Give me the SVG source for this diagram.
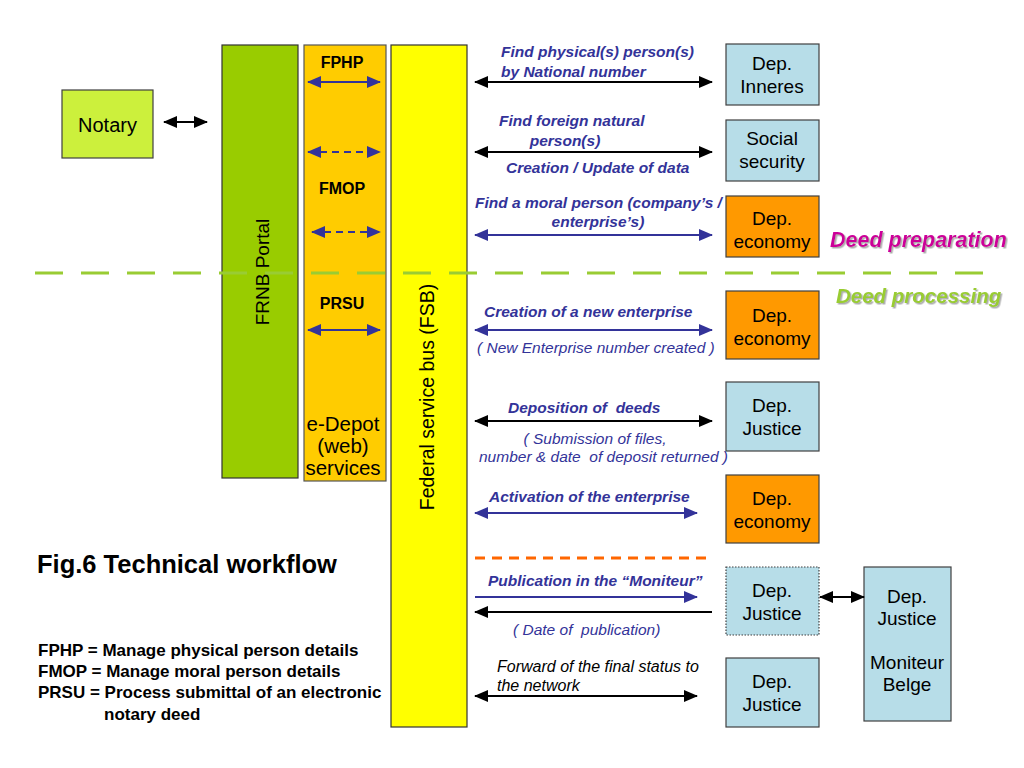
<svg xmlns="http://www.w3.org/2000/svg" width="1024" height="768" viewBox="0 0 1024 768">
<defs>
<style>
.lbl{font-family:"Liberation Sans",Arial,sans-serif;font-size:15.5px;font-weight:bold;font-style:italic;fill:#333399;white-space:pre}
.sub{font-family:"Liberation Sans",Arial,sans-serif;font-size:15.5px;font-style:italic;fill:#333399;white-space:pre}
.fwd{font-family:"Liberation Sans",Arial,sans-serif;font-size:16px;font-style:italic;fill:#000}
.box{font-family:"Liberation Sans",Arial,sans-serif;font-size:19px;fill:#000;text-anchor:middle}
.col{font-family:"Liberation Sans",Arial,sans-serif;font-size:16px;font-weight:bold;fill:#000;text-anchor:middle}
.leg{font-family:"Liberation Sans",Arial,sans-serif;font-size:17px;font-weight:bold;fill:#000}
.blk{stroke:#000;stroke-width:2;fill:none}
.blu{stroke:#333399;stroke-width:2;fill:none}
.lb{fill:#b7dde8;stroke:#404040;stroke-width:1.2}
.or{fill:#ff9900;stroke:#404040;stroke-width:1.2}
.mid{text-anchor:middle}
</style>
<marker id="ab" markerUnits="userSpaceOnUse" markerWidth="14" markerHeight="12" refX="13" refY="6" orient="auto-start-reverse"><path d="M0,0 L14,6 L0,12 z" fill="#000"/></marker>
<marker id="au" markerUnits="userSpaceOnUse" markerWidth="14" markerHeight="12" refX="13" refY="6" orient="auto-start-reverse"><path d="M0,0 L14,6 L0,12 z" fill="#333399"/></marker>
<filter id="sh" x="-10%" y="-20%" width="130%" height="150%"><feDropShadow dx="1.5" dy="1.5" stdDeviation="0.6" flood-color="#999" flood-opacity="0.8"/></filter>
</defs>
<rect width="1024" height="768" fill="#fff"/>

<g id="notary"><rect x="62" y="90" width="91" height="68" fill="#ccf03c" stroke="#404040" stroke-width="1.2"/><text class="box" x="107.5" y="132" style="font-size:20px">Notary</text></g>

<g id="frnb"><rect x="222" y="45" width="76" height="433" fill="#99cc00" stroke="#333" stroke-width="1.2"/><text class="box" transform="translate(269,272) rotate(-90)" style="font-size:19px">FRNB Portal</text></g>

<g id="edepot"><rect x="304" y="45" width="82" height="436" fill="#ffcc00" stroke="#555" stroke-width="1.2"/>
<text class="col" x="342" y="68">FPHP</text>
<text class="col" x="342" y="194">FMOP</text>
<text class="col" x="342" y="309">PRSU</text>
<text class="box" x="343" y="431" style="font-size:20.5px">e-Depot</text>
<text class="box" x="343" y="453" style="font-size:20.5px">(web)</text>
<text class="box" x="343" y="475" style="font-size:20.5px">services</text>
</g>

<g id="fsb"><rect x="391" y="45" width="76" height="682" fill="#ffff00" stroke="#333" stroke-width="1.2"/><text class="box" transform="translate(434,397) rotate(-90)" style="font-size:19.5px">Federal service bus (FSB)</text></g>

<g id="dep-inneres"><rect class="lb" x="726" y="44" width="93" height="61"/><text class="box" x="772" y="70">Dep.</text><text class="box" x="772" y="93">Inneres</text></g>
<g id="social-security"><rect class="lb" x="726" y="120" width="93" height="61"/><text class="box" x="772" y="145">Social</text><text class="box" x="772" y="168">security</text></g>
<g id="dep-economy-1"><rect class="or" x="726" y="196" width="93" height="61"/><text class="box" x="772" y="225">Dep.</text><text class="box" x="772" y="248">economy</text></g>
<g id="dep-economy-2"><rect class="or" x="726" y="291" width="93" height="68"/><text class="box" x="772" y="322">Dep.</text><text class="box" x="772" y="345">economy</text></g>
<g id="dep-justice-1"><rect class="lb" x="726" y="382" width="93" height="69"/><text class="box" x="772" y="412">Dep.</text><text class="box" x="772" y="435">Justice</text></g>
<g id="dep-economy-3"><rect class="or" x="726" y="475" width="93" height="68"/><text class="box" x="772" y="505">Dep.</text><text class="box" x="772" y="528">economy</text></g>
<g id="dep-justice-2"><rect class="lb" x="726" y="567" width="93" height="68" stroke-dasharray="1.5,1.5"/><text class="box" x="772" y="597">Dep.</text><text class="box" x="772" y="620">Justice</text></g>
<g id="dep-justice-3"><rect class="lb" x="726" y="658" width="93" height="69"/><text class="box" x="772" y="688">Dep.</text><text class="box" x="772" y="711">Justice</text></g>
<g id="moniteur"><rect class="lb" x="864" y="567" width="87" height="154"/><text class="box" x="907" y="603">Dep.</text><text class="box" x="907" y="625">Justice</text><text class="box" x="907" y="669">Moniteur</text><text class="box" x="907" y="691">Belge</text></g>

<g id="phase-labels" style="font-family:'Liberation Sans',Arial,sans-serif;font-weight:bold;font-style:italic" filter="url(#sh)">
<text x="830" y="247" fill="#cc0099" style="font-size:21.5px">Deed preparation</text>
<text x="836" y="303" fill="#99cc33" style="font-size:20.5px">Deed processing</text>
</g>

<g id="connectors">
<line x1="35" y1="273" x2="990" y2="273" stroke="#99cc33" stroke-width="3" stroke-dasharray="28,18"/>
<line x1="164" y1="122" x2="207" y2="122" class="blk" marker-start="url(#ab)" marker-end="url(#ab)"/>
<line x1="308" y1="82" x2="380" y2="82" class="blu" marker-start="url(#au)" marker-end="url(#au)"/>
<line x1="308" y1="152" x2="380" y2="152" class="blu" stroke-dasharray="7,5" marker-start="url(#au)" marker-end="url(#au)"/>
<line x1="312" y1="232" x2="380" y2="232" class="blu" stroke-dasharray="7,5" marker-start="url(#au)" marker-end="url(#au)"/>
<line x1="308" y1="330" x2="380" y2="330" class="blu" marker-start="url(#au)" marker-end="url(#au)"/>
<line x1="475" y1="82" x2="712" y2="82" class="blk" marker-start="url(#ab)" marker-end="url(#ab)"/>
<line x1="475" y1="152" x2="712" y2="152" class="blk" marker-start="url(#ab)" marker-end="url(#ab)"/>
<line x1="475" y1="235" x2="712" y2="235" class="blu" marker-start="url(#au)" marker-end="url(#au)"/>
<line x1="475" y1="330" x2="712" y2="330" class="blu" marker-start="url(#au)" marker-end="url(#au)"/>
<line x1="475" y1="421" x2="712" y2="421" class="blk" marker-start="url(#ab)" marker-end="url(#ab)"/>
<line x1="475" y1="513" x2="697" y2="513" class="blu" marker-start="url(#au)" marker-end="url(#au)"/>
<line x1="475" y1="558" x2="712" y2="558" stroke="#ff6600" stroke-width="3" stroke-dasharray="10,7"/>
<line x1="475" y1="597" x2="697" y2="597" class="blu" marker-end="url(#au)"/>
<line x1="712" y1="612" x2="475" y2="612" class="blk" marker-end="url(#ab)"/>
<line x1="475" y1="696" x2="697" y2="696" class="blk" marker-start="url(#ab)" marker-end="url(#ab)"/>
<line x1="820" y1="597" x2="864" y2="597" class="blk" marker-start="url(#ab)" marker-end="url(#ab)"/>
</g>

<g id="connector-labels">
<text class="lbl" x="501" y="57">Find physical(s) person(s)</text>
<text class="lbl" x="501" y="77">by National number</text>
<text class="lbl" x="499" y="126">Find foreign natural</text>
<text class="lbl mid" x="565" y="146">person(s)</text>
<text class="lbl" x="506" y="173">Creation / Update of data</text>
<text class="lbl" x="475" y="208">Find a moral person (company’s /</text>
<text class="lbl mid" x="598" y="227">enterprise’s)</text>
<text class="lbl" x="484" y="317">Creation of a new enterprise</text>
<text class="sub" x="477" y="353">( New Enterprise number created )</text>
<text class="lbl" x="508" y="413">Deposition of  deeds</text>
<text class="sub mid" x="595" y="444">( Submission of files,</text>
<text class="sub" x="479" y="462">number &amp; date  of deposit returned )</text>
<text class="lbl" x="489" y="502">Activation of the enterprise</text>
<text class="lbl" x="488" y="586">Publication in the “Moniteur”</text>
<text class="sub" x="513" y="635">( Date of  publication)</text>
<text class="fwd" x="497" y="672">Forward of the final status to</text>
<text class="fwd" x="497" y="691">the network</text>
</g>

<g id="legend">
<text x="37" y="573" style="font-family:'Liberation Sans',Arial,sans-serif;font-size:25.5px;font-weight:bold">Fig.6 Technical workflow</text>
<text class="leg" x="38" y="656">FPHP = Manage physical person details</text>
<text class="leg" x="38" y="677">FMOP = Manage moral person details</text>
<text class="leg" x="38" y="698">PRSU = Process submittal of an electronic</text>
<text class="leg" x="104" y="720">notary deed</text>
</g>
</svg>
